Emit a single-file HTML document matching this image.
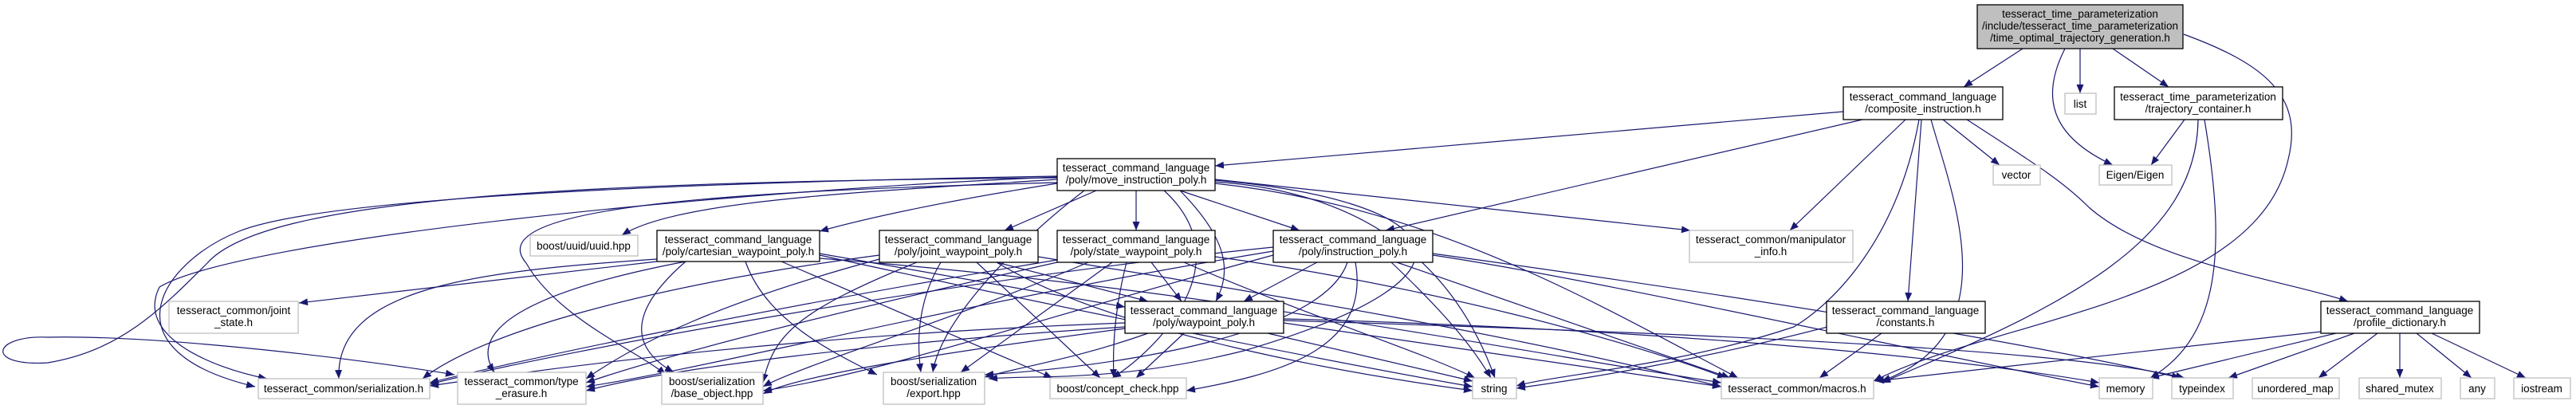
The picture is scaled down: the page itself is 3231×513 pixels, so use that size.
<!DOCTYPE html>
<html><head><meta charset="utf-8"><style>
html,body{margin:0;padding:0;background:#fff;width:3231px;height:513px;overflow:hidden}
svg{display:block}
text{font-family:"Liberation Sans",sans-serif;font-size:13.5px;fill:#000;text-anchor:middle}
.e{fill:none;stroke:#191970;stroke-width:1.2;marker-end:url(#a)}
.n{fill:#fff;stroke:#000;stroke-width:1.3}
.g{fill:#fff;stroke:#c0c0c0;stroke-width:1.3}
</style></head><body>
<svg width="3231" height="513" viewBox="0 0 3231 513">
<defs><marker id="a" markerUnits="userSpaceOnUse" markerWidth="12" markerHeight="10" refX="11" refY="4.5" orient="auto"><path d="M0,0 L11,4.5 L0,9 z" fill="#191970"/></marker></defs>
<g>
<path class="e" d="M2537 61 L2463 109"/>
<path class="e" d="M2609 61 L2609 117"/>
<path class="e" d="M2650 61 L2720 109"/>
<path class="e" d="M2590 61 C2560 120,2570 170,2650 207"/>
<path class="e" d="M2739 43 C2840 80,2890 120,2870 200 C2830 380,2500 400,2350 478"/>
<path class="e" d="M2312 140 L1524 208"/>
<path class="e" d="M2336 150 L1738 289"/>
<path class="e" d="M2390 150 L2245 289"/>
<path class="e" d="M2407 150 C2380 300,2300 380,2250 410 C2100 460,1950 470,1902 484"/>
<path class="e" d="M2410 150 L2393 378"/>
<path class="e" d="M2422 150 C2450 250,2520 420,2360 478"/>
<path class="e" d="M2437 150 L2508 207"/>
<path class="e" d="M2467 150 C2560 210,2590 230,2620 260 C2700 330,2860 350,2945 378"/>
<path class="e" d="M2740 150 L2698 207"/>
<path class="e" d="M2757 150 C2755 300,2600 380,2360 480"/>
<path class="e" d="M2765 150 C2790 300,2790 420,2697 474"/>
<path class="e" d="M2300 408 C2100 460,1950 480,1902 487"/>
<path class="e" d="M2360 418 L2282 474"/>
<path class="e" d="M2911 416 L2352 478"/>
<path class="e" d="M2930 418 L2697 474"/>
<path class="e" d="M2953 418 L2795 474"/>
<path class="e" d="M2982 418 L2908 474"/>
<path class="e" d="M3010 418 L3010 474"/>
<path class="e" d="M3031 418 L3100 474"/>
<path class="e" d="M3050 418 L3168 474"/>
<path class="e" d="M1326 225 C1100 240,850 250,780 295"/>
<path class="e" d="M1326 230 C1200 250,1100 270,1028 290"/>
<path class="e" d="M1375 239 L1260 289"/>
<path class="e" d="M1425 239 L1425 289"/>
<path class="e" d="M1480 239 L1630 289"/>
<path class="e" d="M1480 239 C1540 300,1545 340,1525 378"/>
<path class="e" d="M1524 225 L2120 289"/>
<path class="e" d="M1326 221 C800 230,400 250,300 290 C200 330,130 440,320 485"/>
<path class="e" d="M1326 222 C900 240,300 300,200 360 C170 420,260 460,335 475"/>
<path class="e" d="M1326 223 C700 228,330 250,260 330 C200 390,150 440,60 455 C-20 460,-10 420,60 423 C200 420,450 450,570 470"/>
<path class="e" d="M1326 229 C900 240,600 260,660 330 C700 400,800 440,835 470"/>
<path class="e" d="M1360 239 C1280 300,1180 400,1170 467"/>
<path class="e" d="M1460 239 C1560 330,1450 440,1395 474"/>
<path class="e" d="M1524 228 C1700 240,1820 320,1875 474"/>
<path class="e" d="M1524 230 C1800 260,2000 380,2180 474"/>
<path class="e" d="M1524 226 C1800 250,1900 340,1560 440 C1400 480,1300 470,1240 475"/>
<path class="e" d="M824 328 L375 380"/>
<path class="e" d="M824 325 C600 340,420 360,425 475"/>
<path class="e" d="M860 328 C640 370,590 420,620 467"/>
<path class="e" d="M860 328 C800 380,780 430,845 467"/>
<path class="e" d="M935 328 C960 400,1040 440,1100 470"/>
<path class="e" d="M980 328 L1320 474"/>
<path class="e" d="M1028 320 C1300 380,1700 460,1847 485"/>
<path class="e" d="M1028 324 C1500 360,1900 440,2159 480"/>
<path class="e" d="M1028 318 L1411 385"/>
<path class="e" d="M1250 329 L1440 378"/>
<path class="e" d="M1103 320 C800 360,600 420,530 475"/>
<path class="e" d="M1103 325 C900 380,800 430,735 475"/>
<path class="e" d="M1150 329 C1000 390,970 420,957 480"/>
<path class="e" d="M1180 329 C1150 380,1150 430,1155 467"/>
<path class="e" d="M1225 329 L1380 474"/>
<path class="e" d="M1250 329 C1400 420,1700 470,1847 490"/>
<path class="e" d="M1302 322 C1600 370,1900 420,2159 485"/>
<path class="e" d="M1444 329 L1482 378"/>
<path class="e" d="M1326 326 C1000 380,700 440,539 480"/>
<path class="e" d="M1326 329 C1100 380,850 440,735 480"/>
<path class="e" d="M1365 329 C1200 400,1000 460,957 485"/>
<path class="e" d="M1395 329 L1205 467"/>
<path class="e" d="M1413 329 C1400 380,1395 430,1397 474"/>
<path class="e" d="M1485 329 C1650 400,1780 440,1850 474"/>
<path class="e" d="M1524 322 C1800 360,2050 430,2165 474"/>
<path class="e" d="M1652 329 L1560 378"/>
<path class="e" d="M1597 310 C1200 350,700 440,539 482"/>
<path class="e" d="M1597 315 C1200 380,900 460,735 485"/>
<path class="e" d="M1597 320 C1300 400,1100 470,957 490"/>
<path class="e" d="M1690 329 C1660 420,1400 460,1235 470"/>
<path class="e" d="M1700 329 C1720 440,1600 470,1488 490"/>
<path class="e" d="M1745 329 C1820 400,1850 440,1870 474"/>
<path class="e" d="M1752 329 L2170 474"/>
<path class="e" d="M1797 320 C2000 350,2400 440,2633 485"/>
<path class="e" d="M1797 318 C2100 360,2500 420,2735 474"/>
<path class="e" d="M1411 405 C1000 420,700 460,539 484"/>
<path class="e" d="M1411 410 C1100 430,850 460,735 490"/>
<path class="e" d="M1411 412 C1200 440,1000 470,957 494"/>
<path class="e" d="M1440 418 C1350 450,1280 460,1235 473"/>
<path class="e" d="M1485 418 L1425 474"/>
<path class="e" d="M1590 418 L1847 478"/>
<path class="e" d="M1610 405 L2159 485"/>
<path class="e" d="M1610 400 C2000 410,2400 440,2633 480"/>
<path class="e" d="M1610 402 C2200 420,2600 440,2740 474"/>
</g>
<g>
<rect x="2480" y="6" width="258" height="55" fill="#bfbfbf" stroke="#000" stroke-width="1.3"/>
<text x="2609" y="22">tesseract_time_parameterization</text>
<text x="2609" y="37">/include/tesseract_time_parameterization</text>
<text x="2609" y="52">/time_optimal_trajectory_generation.h</text>

<rect class="n" x="2312" y="109" width="200" height="41"/><text x="2412" y="126">tesseract_command_language</text><text x="2412" y="141">/composite_instruction.h</text>
<rect class="g" x="2590" y="117" width="39" height="26"/><text x="2609" y="135">list</text>
<rect class="n" x="2652" y="109" width="211" height="41"/><text x="2757" y="126">tesseract_time_parameterization</text><text x="2757" y="141">/trajectory_container.h</text>
<rect class="g" x="2500" y="207" width="59" height="25"/><text x="2529" y="224">vector</text>
<rect class="g" x="2633" y="207" width="91" height="25"/><text x="2678" y="224">Eigen/Eigen</text>
<rect class="n" x="1326" y="199" width="198" height="40"/><text x="1425" y="215">tesseract_command_language</text><text x="1425" y="230">/poly/move_instruction_poly.h</text>
<rect class="g" x="2119" y="289" width="205" height="40"/><text x="2221" y="305">tesseract_common/manipulator</text><text x="2221" y="320">_info.h</text>
<rect class="g" x="665" y="295" width="135" height="26"/><text x="732" y="313">boost/uuid/uuid.hpp</text>
<rect class="n" x="824" y="289" width="204" height="39"/><text x="926" y="305">tesseract_command_language</text><text x="926" y="320">/poly/cartesian_waypoint_poly.h</text>
<rect class="n" x="1103" y="289" width="199" height="40"/><text x="1202" y="305">tesseract_command_language</text><text x="1202" y="320">/poly/joint_waypoint_poly.h</text>
<rect class="n" x="1326" y="289" width="198" height="40"/><text x="1425" y="305">tesseract_command_language</text><text x="1425" y="320">/poly/state_waypoint_poly.h</text>
<rect class="n" x="1597" y="289" width="200" height="40"/><text x="1697" y="305">tesseract_command_language</text><text x="1697" y="320">/poly/instruction_poly.h</text>
<rect class="g" x="212" y="378" width="162" height="40"/><text x="293" y="394">tesseract_common/joint</text><text x="293" y="409">_state.h</text>
<rect class="n" x="1411" y="378" width="199" height="40"/><text x="1510" y="394">tesseract_command_language</text><text x="1510" y="409">/poly/waypoint_poly.h</text>
<rect class="n" x="2291" y="378" width="199" height="40"/><text x="2390" y="394">tesseract_command_language</text><text x="2390" y="409">/constants.h</text>
<rect class="n" x="2911" y="378" width="199" height="40"/><text x="3010" y="394">tesseract_command_language</text><text x="3010" y="409">/profile_dictionary.h</text>

<rect class="g" x="324" y="475" width="215" height="25"/><text x="431" y="492">tesseract_common/serialization.h</text>
<rect class="g" x="574" y="467" width="161" height="40"/><text x="654" y="483">tesseract_common/type</text><text x="654" y="498">_erasure.h</text>
<rect class="g" x="830" y="467" width="127" height="40"/><text x="893" y="483">boost/serialization</text><text x="893" y="498">/base_object.hpp</text>
<rect class="g" x="1108" y="467" width="127" height="40"/><text x="1171" y="483">boost/serialization</text><text x="1171" y="498">/export.hpp</text>
<rect class="g" x="1317" y="474" width="171" height="26"/><text x="1402" y="492">boost/concept_check.hpp</text>
<rect class="g" x="1847" y="474" width="55" height="26"/><text x="1874" y="492">string</text>
<rect class="g" x="2159" y="474" width="191" height="26"/><text x="2254" y="492">tesseract_common/macros.h</text>
<rect class="g" x="2633" y="474" width="67" height="26"/><text x="2666" y="492">memory</text>
<rect class="g" x="2724" y="474" width="77" height="26"/><text x="2762" y="492">typeindex</text>
<rect class="g" x="2825" y="474" width="109" height="26"/><text x="2879" y="492">unordered_map</text>
<rect class="g" x="2959" y="474" width="103" height="26"/><text x="3010" y="492">shared_mutex</text>
<rect class="g" x="3086" y="474" width="43" height="26"/><text x="3107" y="492">any</text>
<rect class="g" x="3153" y="474" width="71" height="26"/><text x="3188" y="492">iostream</text>
</g>
</svg>
</body></html>
